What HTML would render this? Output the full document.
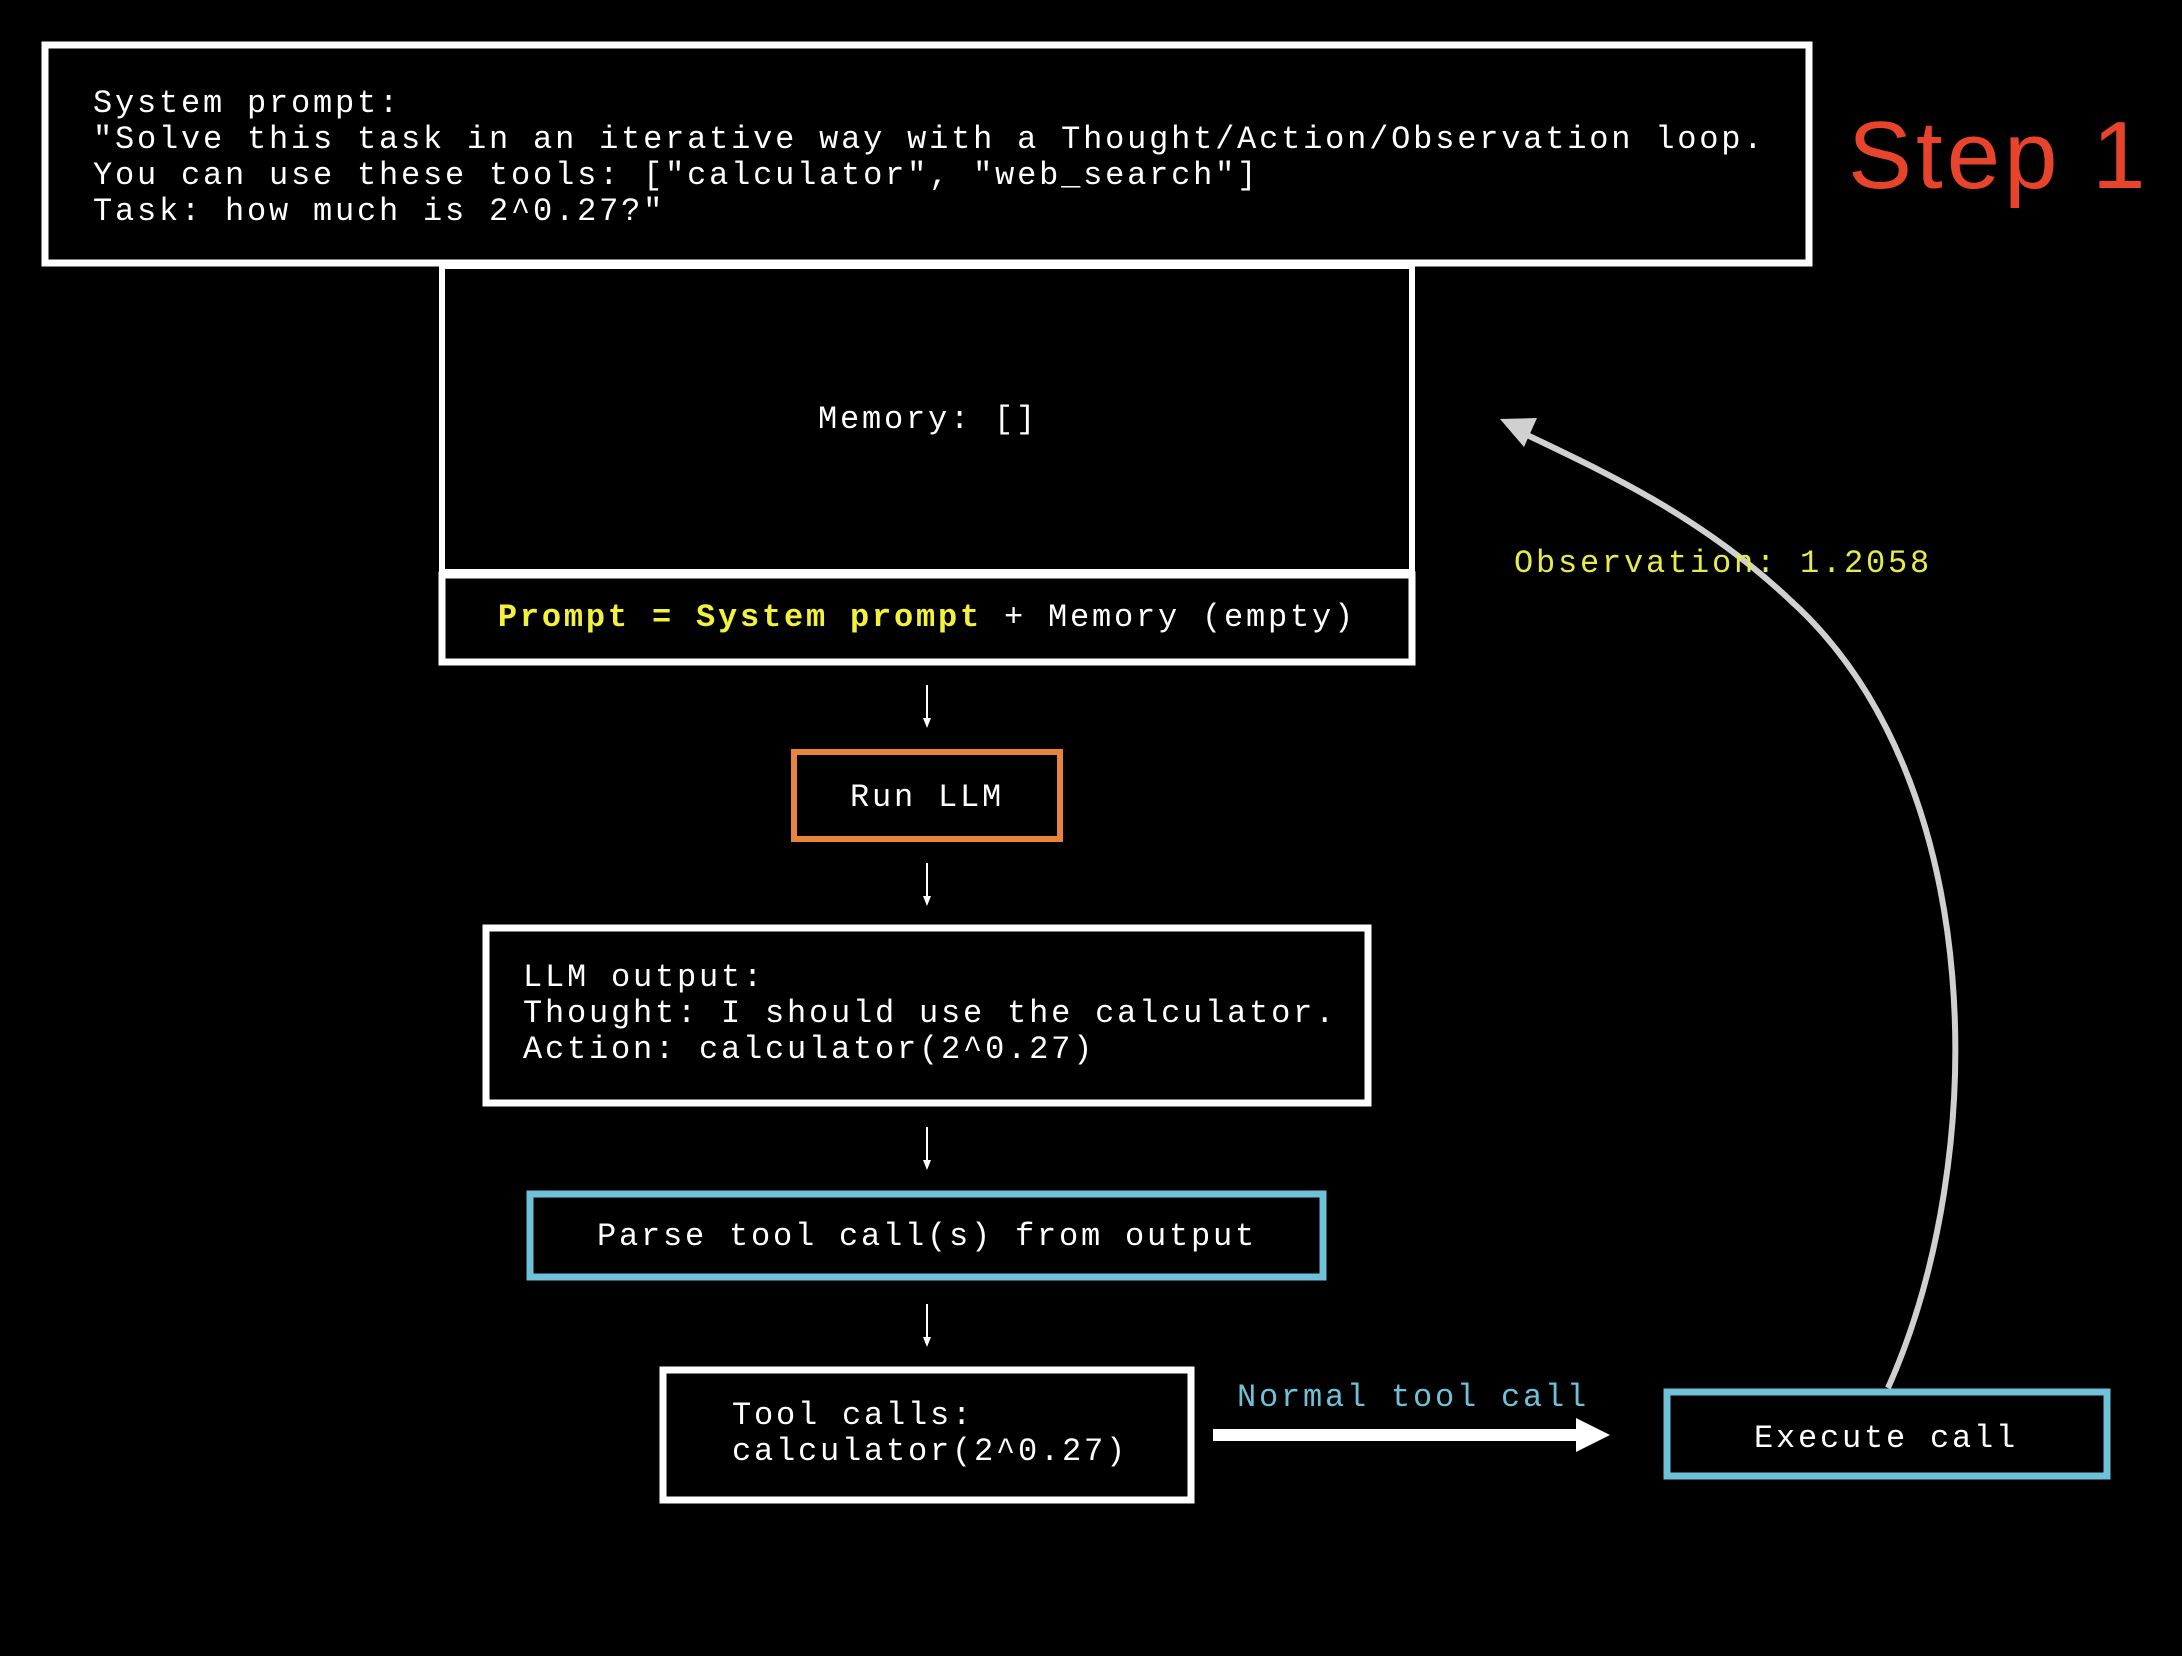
<!DOCTYPE html>
<html><head><meta charset="utf-8"><style>
html,body{margin:0;padding:0;background:#000;}
svg{display:block}
text{font-family:"Liberation Mono","DejaVu Sans Mono",monospace;font-size:32px;letter-spacing:2.8px;fill:#fff;}
</style></head><body>
<svg width="2182" height="1656" viewBox="0 0 2182 1656" xmlns="http://www.w3.org/2000/svg">
<rect width="2182" height="1656" fill="#000"/>
<!-- system prompt box -->
<rect x="45" y="45" width="1764" height="218" fill="none" stroke="#fff" stroke-width="7"/>
<text x="93" y="112">System prompt:</text>
<text x="93" y="148">"Solve this task in an iterative way with a Thought/Action/Observation loop.</text>
<text x="93" y="184">You can use these tools: ["calculator", "web_search"]</text>
<text x="93" y="220">Task: how much is 2^0.27?"</text>
<text x="1848" y="188" style="font-family:'Liberation Sans',sans-serif;font-size:96px;letter-spacing:4px;fill:#e8432b">Step 1</text>
<!-- memory -->
<rect x="442" y="266" width="970" height="306" fill="none" stroke="#fff" stroke-width="6"/>
<text x="928" y="428" text-anchor="middle">Memory: []</text>
<rect x="442" y="575" width="970" height="87" fill="none" stroke="#fff" stroke-width="7"/>
<text x="927" y="626" text-anchor="middle"><tspan style="fill:#f2f23c;font-weight:bold">Prompt = System prompt</tspan> + Memory (empty)</text>
<!-- arrows -->
<g stroke="#fff" stroke-width="2" fill="#fff">
<line x1="927" y1="685" x2="927" y2="722"/><path d="M923 718 L931 718 L927 728 Z" stroke="none"/>
<line x1="927" y1="863" x2="927" y2="900"/><path d="M923 896 L931 896 L927 906 Z" stroke="none"/>
<line x1="927" y1="1127" x2="927" y2="1164"/><path d="M923 1160 L931 1160 L927 1170 Z" stroke="none"/>
<line x1="927" y1="1304" x2="927" y2="1341"/><path d="M923 1337 L931 1337 L927 1347 Z" stroke="none"/>
</g>
<rect x="794" y="752" width="266" height="87" fill="none" stroke="#e8843c" stroke-width="6"/>
<text x="927" y="806" text-anchor="middle">Run LLM</text>
<rect x="486" y="928" width="882" height="175" fill="none" stroke="#fff" stroke-width="7"/>
<text x="523" y="986">LLM output:</text>
<text x="523" y="1022">Thought: I should use the calculator.</text>
<text x="523" y="1058">Action: calculator(2^0.27)</text>
<rect x="530" y="1194" width="793" height="83" fill="none" stroke="#6ec1d9" stroke-width="7"/>
<text x="927" y="1245" text-anchor="middle">Parse tool call(s) from output</text>
<rect x="663" y="1370" width="528" height="130" fill="none" stroke="#fff" stroke-width="7"/>
<text x="732" y="1424">Tool calls:</text>
<text x="732" y="1460">calculator(2^0.27)</text>
<text x="1237" y="1406" style="fill:#6ec1d9">Normal tool call</text>
<rect x="1213" y="1429" width="368" height="12" fill="#fff"/>
<path d="M1576 1418 L1610 1435 L1576 1452 Z" fill="#fff"/>
<rect x="1667" y="1392" width="440" height="84" fill="none" stroke="#6ec1d9" stroke-width="7"/>
<text x="1886" y="1447" text-anchor="middle">Execute call</text>
<!-- curve -->
<path d="M1888 1388 C1990 1160 1990 780 1790 600 C1700 515 1600 470 1525 434" fill="none" stroke="#d0d0d0" stroke-width="6"/>
<path d="M1500 419 L1537 418 L1524 447 Z" fill="#d0d0d0"/>
<text x="1514" y="572" style="fill:#e6ea4a">Observation: 1.2058</text>
</svg>
</body></html>
